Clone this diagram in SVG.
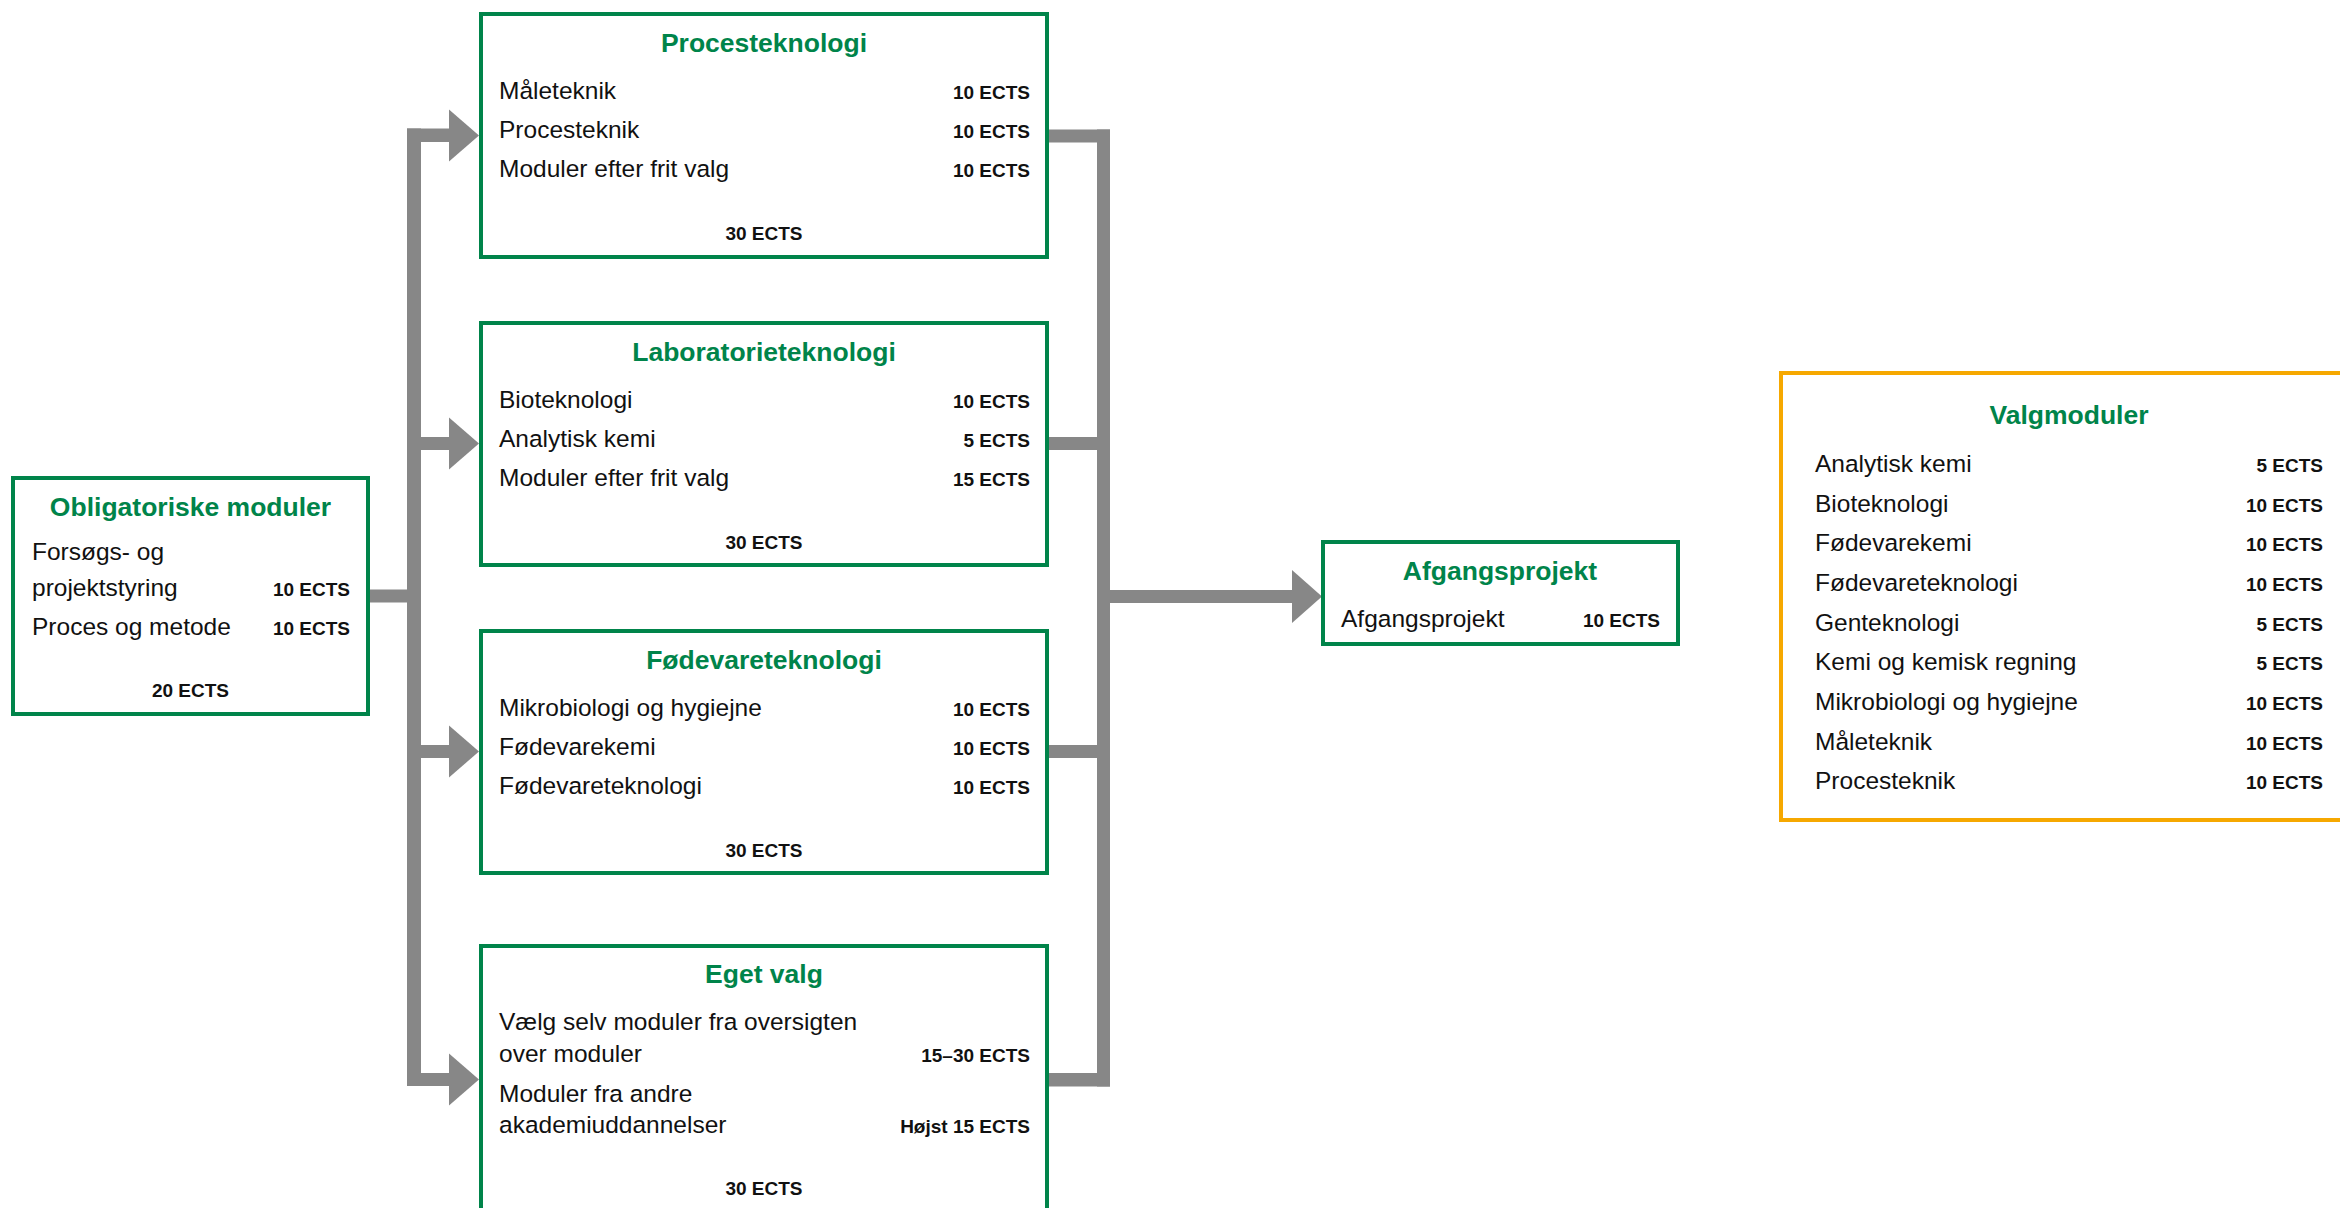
<svg xmlns="http://www.w3.org/2000/svg" width="2340" height="1208" viewBox="0 0 2340 1208">
<style>
.box{fill:#fff;stroke:#00844A;stroke-width:4}
.obox{fill:#fff;stroke:#F6A800;stroke-width:4}
.t{font-family:"Liberation Sans",Arial,sans-serif;font-weight:bold;font-size:26.5px;fill:#00844A;text-anchor:middle}
.i{font-family:"Liberation Sans",Arial,sans-serif;font-size:24.5px;fill:#111}
.e{font-family:"Liberation Sans",Arial,sans-serif;font-weight:bold;font-size:19px;fill:#111;text-anchor:end}
.s{font-family:"Liberation Sans",Arial,sans-serif;font-weight:bold;font-size:19px;fill:#111;text-anchor:middle}
.c{fill:#878787}
</style>
<rect width="2340" height="1208" fill="#fff"/>
<g id="connectors">
  <rect class="c" x="368" y="589.5" width="46" height="13"/>
  <rect class="c" x="407" y="128.5" width="14" height="957.5"/>
  <rect class="c" x="407" y="128.5" width="43" height="13.5"/>
  <polygon class="c" points="449,109.5 479,135.5 449,161.5"/>
  <rect class="c" x="407" y="437" width="43" height="13"/>
  <polygon class="c" points="449,417.5 479,443.5 449,469.5"/>
  <rect class="c" x="407" y="745" width="43" height="13"/>
  <polygon class="c" points="449,725.5 479,751.5 449,777.5"/>
  <rect class="c" x="407" y="1073" width="43" height="13"/>
  <polygon class="c" points="449,1053.5 479,1079.5 449,1105.5"/>
  <rect class="c" x="1047" y="129.5" width="63" height="13"/>
  <rect class="c" x="1047" y="437" width="63" height="13"/>
  <rect class="c" x="1047" y="745" width="63" height="13"/>
  <rect class="c" x="1047" y="1073" width="63" height="13.5"/>
  <rect class="c" x="1097" y="129.5" width="13" height="957"/>
  <rect class="c" x="1110" y="590" width="183" height="13"/>
  <polygon class="c" points="1292,570 1322,596.5 1292,623"/>
</g>
<g id="obligatoriske">
  <rect class="box" x="13" y="478" width="355" height="236"/>
  <text class="t" x="190.5" y="516">Obligatoriske moduler</text>
  <text class="i" x="32" y="560">Forsøgs- og</text>
  <text class="i" x="32" y="596">projektstyring</text>
  <text class="e" x="350" y="596">10 ECTS</text>
  <text class="i" x="32" y="635">Proces og metode</text>
  <text class="e" x="350" y="635">10 ECTS</text>
  <text class="s" x="190.5" y="697">20 ECTS</text>
</g>
<g id="procesteknologi">
  <rect class="box" x="481" y="14" width="566" height="243"/>
  <text class="t" x="764" y="52">Procesteknologi</text>
  <text class="i" x="499" y="99">Måleteknik</text>
  <text class="e" x="1030" y="99">10 ECTS</text>
  <text class="i" x="499" y="138">Procesteknik</text>
  <text class="e" x="1030" y="138">10 ECTS</text>
  <text class="i" x="499" y="177">Moduler efter frit valg</text>
  <text class="e" x="1030" y="177">10 ECTS</text>
  <text class="s" x="764" y="240">30 ECTS</text>
</g>
<g id="laboratorieteknologi">
  <rect class="box" x="481" y="323" width="566" height="242"/>
  <text class="t" x="764" y="361">Laboratorieteknologi</text>
  <text class="i" x="499" y="408">Bioteknologi</text>
  <text class="e" x="1030" y="408">10 ECTS</text>
  <text class="i" x="499" y="447">Analytisk kemi</text>
  <text class="e" x="1030" y="447">5 ECTS</text>
  <text class="i" x="499" y="486">Moduler efter frit valg</text>
  <text class="e" x="1030" y="486">15 ECTS</text>
  <text class="s" x="764" y="549">30 ECTS</text>
</g>
<g id="foedevareteknologi">
  <rect class="box" x="481" y="631" width="566" height="242"/>
  <text class="t" x="764" y="669">Fødevareteknologi</text>
  <text class="i" x="499" y="716">Mikrobiologi og hygiejne</text>
  <text class="e" x="1030" y="716">10 ECTS</text>
  <text class="i" x="499" y="755">Fødevarekemi</text>
  <text class="e" x="1030" y="755">10 ECTS</text>
  <text class="i" x="499" y="794">Fødevareteknologi</text>
  <text class="e" x="1030" y="794">10 ECTS</text>
  <text class="s" x="764" y="857">30 ECTS</text>
</g>
<g id="eget-valg">
  <rect class="box" x="481" y="946" width="566" height="275"/>
  <text class="t" x="764" y="983">Eget valg</text>
  <text class="i" x="499" y="1030">Vælg selv moduler fra oversigten</text>
  <text class="i" x="499" y="1062">over moduler</text>
  <text class="e" x="1030" y="1062">15–30 ECTS</text>
  <text class="i" x="499" y="1102">Moduler fra andre</text>
  <text class="i" x="499" y="1133">akademiuddannelser</text>
  <text class="e" x="1030" y="1133">Højst 15 ECTS</text>
  <text class="s" x="764" y="1195">30 ECTS</text>
</g>
<g id="afgangsprojekt">
  <rect class="box" x="1323" y="542" width="355" height="102"/>
  <text class="t" x="1500" y="580">Afgangsprojekt</text>
  <text class="i" x="1341" y="627">Afgangsprojekt</text>
  <text class="e" x="1660" y="627">10 ECTS</text>
</g>
<g id="valgmoduler">
  <rect class="obox" x="1781" y="373" width="580" height="447"/>
  <text class="t" x="2069" y="424">Valgmoduler</text>
  <text class="i" x="1815" y="472">Analytisk kemi</text>
  <text class="e" x="2323" y="472">5 ECTS</text>
  <text class="i" x="1815" y="512">Bioteknologi</text>
  <text class="e" x="2323" y="512">10 ECTS</text>
  <text class="i" x="1815" y="551">Fødevarekemi</text>
  <text class="e" x="2323" y="551">10 ECTS</text>
  <text class="i" x="1815" y="591">Fødevareteknologi</text>
  <text class="e" x="2323" y="591">10 ECTS</text>
  <text class="i" x="1815" y="631">Genteknologi</text>
  <text class="e" x="2323" y="631">5 ECTS</text>
  <text class="i" x="1815" y="670">Kemi og kemisk regning</text>
  <text class="e" x="2323" y="670">5 ECTS</text>
  <text class="i" x="1815" y="710">Mikrobiologi og hygiejne</text>
  <text class="e" x="2323" y="710">10 ECTS</text>
  <text class="i" x="1815" y="750">Måleteknik</text>
  <text class="e" x="2323" y="750">10 ECTS</text>
  <text class="i" x="1815" y="789">Procesteknik</text>
  <text class="e" x="2323" y="789">10 ECTS</text>
</g>
</svg>
